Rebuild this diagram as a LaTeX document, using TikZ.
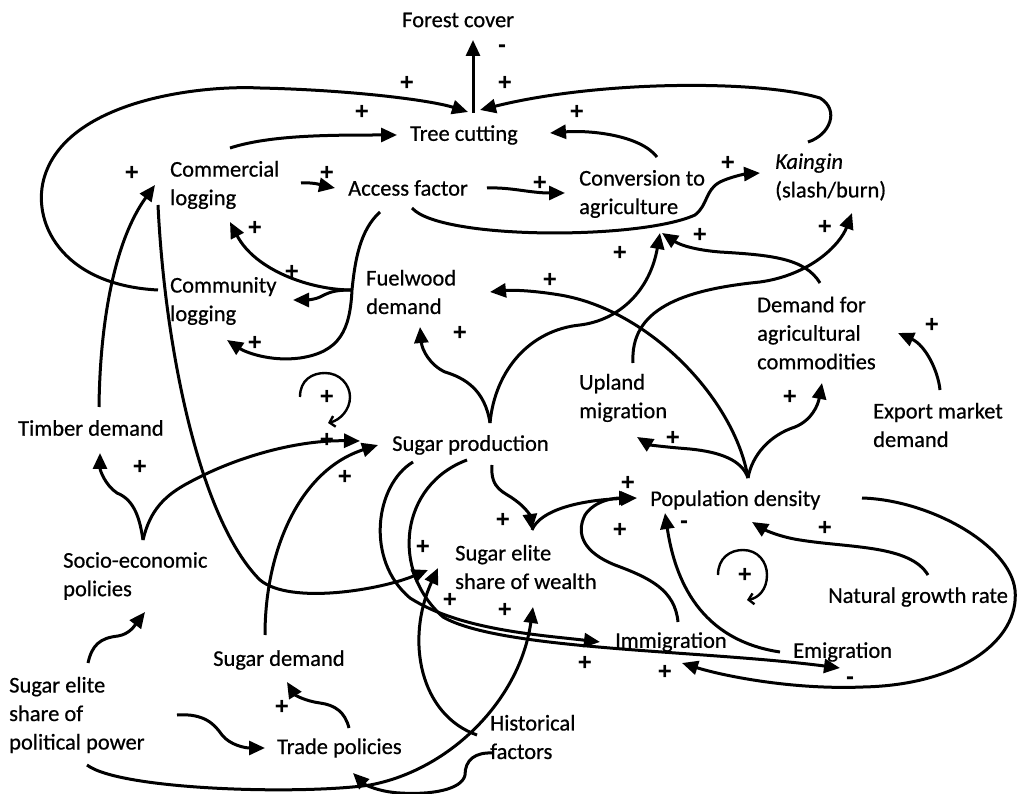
\documentclass[tikz,border=0pt]{standalone}
\usepackage{fontspec}
\setmainfont{Carlito}[FakeBold=0.6]
\newfontfamily\signfont{Liberation Sans}
\usetikzlibrary{arrows.meta}
\tikzset{
  lbl/.style={font=\fontsize{22.5}{28.5}\selectfont, align=left, inner sep=0pt, anchor=west},
  conn/.style={line width=3pt, -{Triangle[length=16pt,width=14pt]}},
  sgn/.style={font=\signfont\bfseries\fontsize{24}{26}\selectfont, inner sep=0pt},
  loopc/.style={line width=2.4pt, -{Straight Barb[length=5pt,width=11pt]}}
}
\begin{document}
\begin{tikzpicture}[x=1pt,y=-1pt]
\fill[white] (0,0) rectangle (1021,794);
\useasboundingbox (0,0) rectangle (1021,794);
% nodes
\node[lbl] (fc) at (402,20) {Forest cover};
\node[lbl] (tc) at (410,135) {Tree cutting};
\node[lbl] (cl) at (170,185) {Commercial\\logging};
\node[lbl] (af) at (348,188) {Access factor};
\node[lbl] (ca) at (579,194) {Conversion to\\agriculture};
\node[lbl] (ka) at (775,177) {\textit{Kaingin}\\(slash/burn)};
\node[lbl] (col) at (170,301) {Community\\logging};
\node[lbl] (fd) at (366,292) {Fuelwood\\demand};
\node[lbl] (dac) at (757,333) {Demand for\\agricultural\\commodities};
\node[lbl] (um) at (579,398) {Upland\\migration};
\node[lbl] (emd) at (873,425) {Export market\\demand};
\node[lbl] (td) at (18,428) {Timber demand};
\node[lbl] (sp) at (392,445) {Sugar production};
\node[lbl] (pd) at (650,500) {Population density};
\node[lbl] (sw) at (455,567) {Sugar elite\\share of wealth};
\node[lbl] (sep) at (63,576) {Socio-economic\\policies};
\node[lbl] (ng) at (828,597) {Natural growth rate};
\node[lbl] (im) at (615,642) {Immigration};
\node[lbl] (emi) at (793,652) {Emigration};
\node[lbl] (sd) at (213,660) {Sugar demand};
\node[lbl] (spp) at (9,715) {Sugar elite\\share of\\political power};
\node[lbl] (tp) at (277,748) {Trade policies};
\node[lbl] (hf) at (490,737) {Historical\\factors};

% connectors
\draw[conn] ([shift={(63,-22)}]tc.west) -- ([shift={(71,20)}]fc.west);
\draw[conn] ([shift={(-12,-11)}]col.west) .. controls (60,285) and (30,220) .. (45,175) .. controls (70,100) and (200,85) .. (260,88) .. controls (350,90) and (430,100) .. ([shift={(58,-23)}]tc.west);
\draw[conn] ([shift={(33,-35)}]ka.west) .. controls (830,135) and (840,110) .. (820,98) .. controls (760,80) and (600,80) .. ([shift={(70,-25)}]tc.west);
\draw[conn] ([shift={(60,-37)}]cl.west) .. controls (270,135) and (330,135) .. ([shift={(-13,0)}]tc.west);
\draw[conn] ([shift={(78,-37)}]ca.west) .. controls (640,135) and (590,130) .. ([shift={(140,-2)}]tc.west);
\draw[conn] ([shift={(131,-2)}]cl.west) .. controls (315,182) and (325,186) .. ([shift={(-13,0)}]af.west);
\draw[conn] ([shift={(139,0)}]af.west) .. controls (510,187) and (530,193) .. ([shift={(-14,-1)}]ca.west);
\draw[conn] ([shift={(64,20)}]af.west) .. controls (440,240) and (640,240) .. (695,215) .. controls (708,205) and (705,190) .. (720,182) .. controls (730,177) and (745,174) .. ([shift={(-15,-4)}]ka.west);
\draw[conn] ([shift={(32,24)}]af.west) .. controls (360,230) and (355,260) .. (352,290) .. controls (350,330) and (340,352) .. (300,358) .. controls (270,362) and (245,352) .. ([shift={(57,39)}]col.west);
\draw[conn] ([shift={(-14,-2)}]fd.west) .. controls (310,290) and (255,270) .. ([shift={(60,37)}]cl.west);
\draw[conn] ([shift={(-14,-2)}]fd.west) .. controls (335,290) and (330,292) .. (322,296) .. controls (315,300) and (305,300) .. ([shift={(123,-1)}]col.west);
\draw[conn] ([shift={(81,-21)}]td.west) .. controls (100,320) and (115,240) .. ([shift={(-15,0)}]cl.west);
\draw[conn] ([shift={(-12,20)}]cl.west) .. controls (165,350) and (200,520) .. (260,580) .. controls (290,605) and (380,590) .. ([shift={(-27,3)}]sw.west);
\draw[conn] ([shift={(80,-36)}]sep.west) .. controls (140,520) and (135,500) .. (117,493) .. controls (105,485) and (100,470) .. ([shift={(82,25)}]td.west);
\draw[conn] ([shift={(80,-36)}]sep.west) .. controls (150,510) and (165,495) .. (190,482) .. controls (240,455) and (300,440) .. ([shift={(-32,-4)}]sp.west);
\draw[conn] ([shift={(52,-25)}]sd.west) .. controls (265,550) and (300,470) .. ([shift={(-14,0)}]sp.west);
\draw[conn] ([shift={(79,-52)}]spp.west) .. controls (92,645) and (100,638) .. (118,636) .. controls (130,634) and (135,625) .. ([shift={(82,36)}]sep.west);
\draw[conn] ([shift={(168,0)}]spp.west) .. controls (205,713) and (215,725) .. (222,735) .. controls (230,745) and (245,748) .. ([shift={(-12,0)}]tp.west);
\draw[conn] ([shift={(72,-20)}]tp.west) .. controls (345,712) and (335,705) .. (320,703) .. controls (305,701) and (295,695) .. ([shift={(74,22)}]sd.west);
\draw[conn] ([shift={(78,50)}]spp.west) .. controls (120,790) and (300,795) .. (370,785) .. controls (450,770) and (520,700) .. ([shift={(78,40)}]sw.west);
\draw[conn] ([shift={(-13,-2)}]hf.west) .. controls (420,715) and (405,640) .. ([shift={(-17,1)}]sw.west);
\draw[conn] ([shift={(3,16)}]hf.west) .. controls (475,752) and (465,760) .. (465,775) .. controls (462,790) and (430,795) .. (400,793) .. controls (380,792) and (365,785) .. ([shift={(76,25)}]tp.west);
\draw[conn] ([shift={(98,-22)}]sp.west) .. controls (485,390) and (465,378) .. (445,372) .. controls (430,365) and (422,350) .. ([shift={(54,35)}]fd.west);
\draw[conn] ([shift={(98,-22)}]sp.west) .. controls (495,370) and (530,330) .. (580,325) .. controls (620,320) and (650,290) .. ([shift={(81,39)}]ca.west);
\draw[conn] ([shift={(63,-50)}]dac.west) .. controls (805,258) and (770,255) .. (720,252) .. controls (695,250) and (680,245) .. ([shift={(83,39)}]ca.west);
\draw[conn] ([shift={(54,-35)}]um.west) .. controls (630,310) and (680,290) .. (760,282) .. controls (810,275) and (840,245) .. ([shift={(77,36)}]ka.west);
\draw[conn] ([shift={(98,-22)}]pd.west) .. controls (735,400) and (650,310) .. (560,295) .. controls (530,290) and (510,290) .. ([shift={(124,0)}]fd.west);
\draw[conn] ([shift={(98,-22)}]pd.west) .. controls (742,460) and (720,452) .. (690,449) .. controls (665,447) and (650,445) .. ([shift={(58,39)}]um.west);
\draw[conn] ([shift={(98,-22)}]pd.west) .. controls (752,455) and (770,435) .. (795,427) .. controls (812,420) and (818,405) .. ([shift={(65,50)}]dac.west);
\draw[conn] ([shift={(67,-35)}]emd.west) .. controls (938,370) and (925,345) .. ([shift={(141,0)}]dac.west);
\draw[conn] ([shift={(100,20)}]sp.west) .. controls (490,490) and (505,492) .. (515,500) .. controls (525,507) and (530,515) .. ([shift={(77,-37)}]sw.west);
\draw[conn] ([shift={(77,-37)}]sw.west) .. controls (540,510) and (580,500) .. ([shift={(-13,-2)}]pd.west);
\draw[conn] ([shift={(63,-20)}]im.west) .. controls (675,590) and (650,578) .. (615,565) .. controls (585,553) and (575,535) .. (585,515) .. controls (595,500) and (615,498) .. ([shift={(-15,-2)}]pd.west);
\draw[conn] ([shift={(-13,0)}]emi.west) .. controls (700,640) and (675,580) .. ([shift={(15,13)}]pd.west);
\draw[conn] ([shift={(100,-22)}]ng.west) .. controls (910,545) and (850,548) .. (800,540) .. controls (780,537) and (765,530) .. ([shift={(102,22)}]pd.west);
\draw[conn] ([shift={(212,-2)}]pd.west) .. controls (930,500) and (1010,545) .. (1015,590) .. controls (1020,640) and (960,685) .. (863,687) .. controls (790,690) and (720,675) .. ([shift={(67,21)}]im.west);
\draw[conn] ([shift={(21,17)}]sp.west) .. controls (375,485) and (365,560) .. (410,598) .. controls (460,630) and (540,635) .. ([shift={(-15,0)}]im.west);
\draw[conn] ([shift={(75,15)}]sp.west) .. controls (400,485) and (390,570) .. (443,617) .. controls (500,650) and (700,650) .. ([shift={(47,16)}]emi.west);

% loop symbols
\draw[loopc] (300,397) .. controls (300,380) and (312,373) .. (325,373) .. controls (340,373) and (350,385) .. (350,397) .. controls (350,410) and (340,420) .. (328,423);
\draw[loopc] (718,575) .. controls (718,558) and (730,550) .. (743,550) .. controls (758,550) and (767,562) .. (767,575) .. controls (767,590) and (758,598) .. (747,600);

% polarity signs
\foreach \p/\s in {{(502,49)}/-, {(505,83)}/+, {(407,83)}/+, {(362,112)}/+, {(577,112)}/+, {(132,173)}/+, {(327,173)}/+, {(540,183)}/+, {(728,163)}/+, {(255,228)}/+, {(292,272)}/+, {(255,343)}/+, {(460,333)}/+, {(620,253)}/+, {(700,235)}/+, {(825,227)}/+, {(550,280)}/+, {(932,325)}/+, {(790,397)}/+, {(673,438)}/+, {(140,467)}/+, {(327,440)}/+, {(345,477)}/+, {(327,397)}/+, {(503,520)}/+, {(628,483)}/+, {(620,530)}/+, {(684,525)}/-, {(825,528)}/+, {(745,575)}/+, {(423,547)}/+, {(450,600)}/+, {(505,610)}/+, {(585,663)}/+, {(665,672)}/+, {(850,681)}/-, {(282,707)}/+}
  \node[sgn] at \p {\s};
\end{tikzpicture}
\end{document}
